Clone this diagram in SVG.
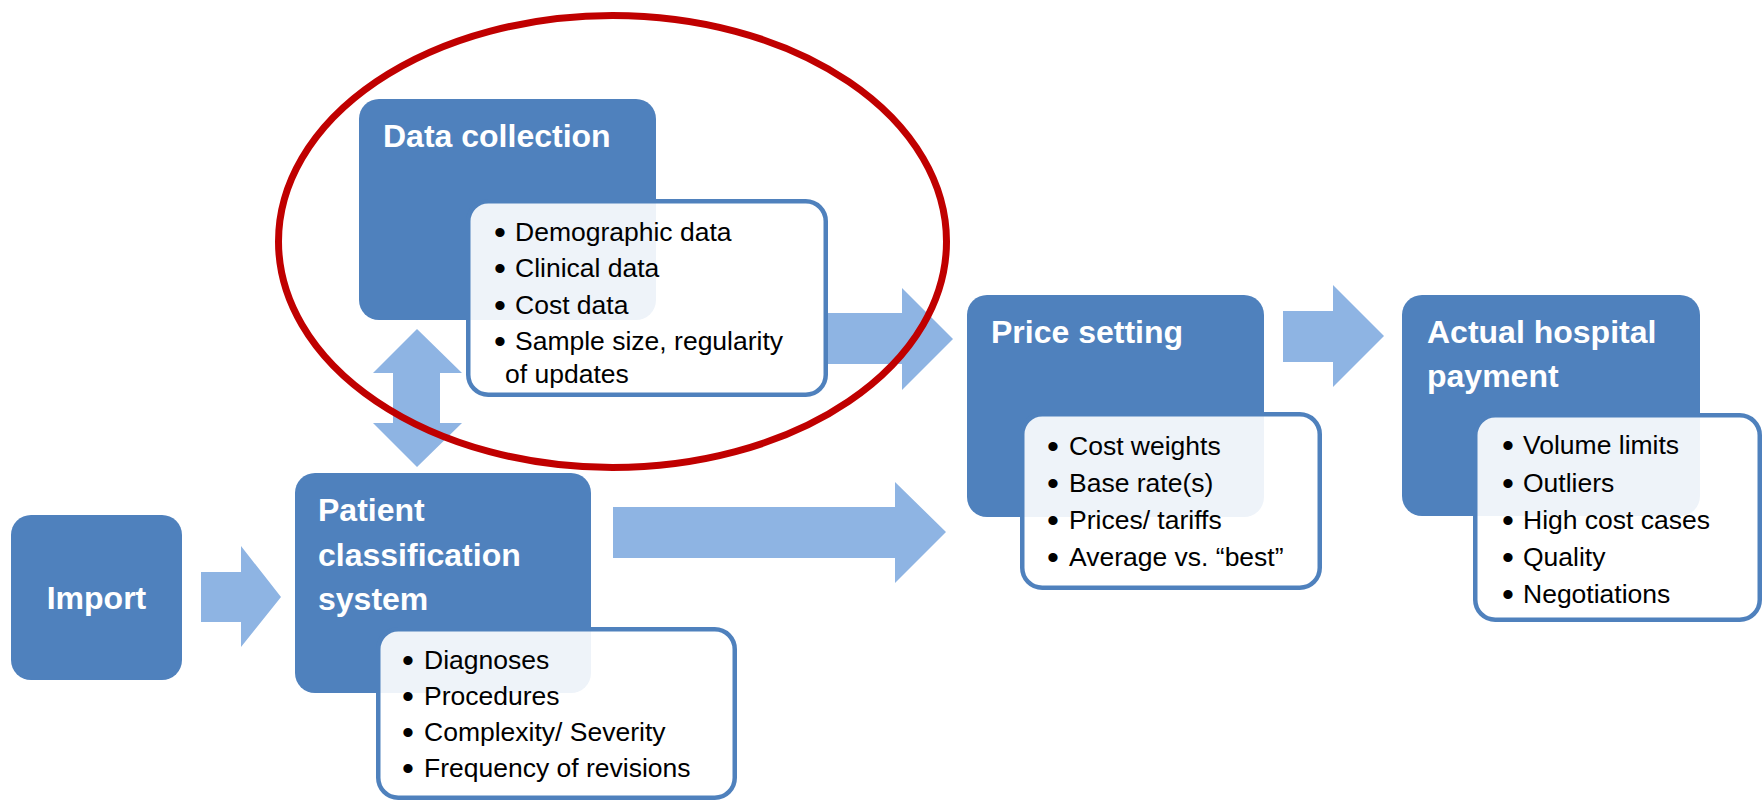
<svg xmlns="http://www.w3.org/2000/svg" width="1763" height="800" viewBox="0 0 1763 800">
  <style>
    .dark { fill: #4F81BD; }
    .list { fill: #FFFFFF; fill-opacity: 0.9; stroke: #4F81BD; stroke-width: 4.5; }
    .arrow { fill: #8EB4E3; }
    .title { font-family: "Liberation Sans", Arial, sans-serif; font-weight: bold; font-size: 32px; fill: #FFFFFF; }
    .item { font-family: "Liberation Sans", Arial, sans-serif; font-size: 26.5px; fill: #000000; }
    .bul { font-family: "Liberation Sans", Arial, sans-serif; font-size: 34px; fill: #000000; }
    .ring { fill: none; stroke: #C00000; stroke-width: 7; }
  </style>
  <rect width="1763" height="800" fill="#FFFFFF"/>

  <g id="connectors">
    <polygon class="arrow" points="201,572 241,572 241,546 281,597 241,647 241,622 201,622"/>
    <polygon class="arrow" points="613,507 895,507 895,482 946,532 895,583 895,558 613,558"/>
    <polygon class="arrow" points="827,313 902,313 902,288 953,339 902,390 902,364 827,364"/>
    <polygon class="arrow" points="1283,311 1333,311 1333,285 1384,336 1333,387 1333,362 1283,362"/>
    <polygon class="arrow" points="417,329 462,373 440,373 440,423 462,423 417,467 373,423 393,423 393,373 373,373"/>
  </g>

  <g id="import">
    <rect class="dark" x="11" y="515" width="171" height="165" rx="20"/>
    <text class="title" x="96.5" y="609" text-anchor="middle">Import</text>
  </g>

  <g id="data-collection">
    <rect class="dark" x="359" y="99" width="297" height="221" rx="20"/>
    <text class="title" x="383" y="147">Data collection</text>
    <rect class="list" x="468.25" y="201.25" width="357.5" height="193.5" rx="20"/>
    <text class="bul" x="494" y="244">•</text><text class="item" x="515" y="241">Demographic data</text>
    <text class="bul" x="494" y="280">•</text><text class="item" x="515" y="277">Clinical data</text>
    <text class="bul" x="494" y="317">•</text><text class="item" x="515" y="314">Cost data</text>
    <text class="bul" x="494" y="353">•</text><text class="item" x="515" y="350">Sample size, regularity</text>
    <text class="item" x="505" y="383">of updates</text>
  </g>

  <g id="patient-classification">
    <rect class="dark" x="295" y="473" width="296" height="220" rx="20"/>
    <text class="title" x="318" y="521">Patient</text>
    <text class="title" x="318" y="566">classification</text>
    <text class="title" x="318" y="610">system</text>
    <rect class="list" x="378.25" y="629.25" width="356.5" height="168.5" rx="20"/>
    <text class="bul" x="402" y="672">•</text><text class="item" x="424" y="669">Diagnoses</text>
    <text class="bul" x="402" y="708">•</text><text class="item" x="424" y="705">Procedures</text>
    <text class="bul" x="402" y="744">•</text><text class="item" x="424" y="741">Complexity/ Severity</text>
    <text class="bul" x="402" y="780">•</text><text class="item" x="424" y="777">Frequency of revisions</text>
  </g>

  <g id="price-setting">
    <rect class="dark" x="967" y="295" width="297" height="222" rx="20"/>
    <text class="title" x="991" y="343">Price setting</text>
    <rect class="list" x="1022.25" y="414.25" width="297.5" height="173.5" rx="20"/>
    <text class="bul" x="1047" y="458">•</text><text class="item" x="1069" y="455">Cost weights</text>
    <text class="bul" x="1047" y="495">•</text><text class="item" x="1069" y="492">Base rate(s)</text>
    <text class="bul" x="1047" y="532">•</text><text class="item" x="1069" y="529">Prices/ tariffs</text>
    <text class="bul" x="1047" y="569">•</text><text class="item" x="1069" y="566">Average vs. “best”</text>
  </g>

  <g id="actual-hospital-payment">
    <rect class="dark" x="1402" y="295" width="298" height="221" rx="20"/>
    <text class="title" x="1427" y="343">Actual hospital</text>
    <text class="title" x="1427" y="387">payment</text>
    <rect class="list" x="1475.25" y="415.25" width="284.5" height="204.5" rx="20"/>
    <text class="bul" x="1502" y="457">•</text><text class="item" x="1523" y="454">Volume limits</text>
    <text class="bul" x="1502" y="495">•</text><text class="item" x="1523" y="492">Outliers</text>
    <text class="bul" x="1502" y="532">•</text><text class="item" x="1523" y="529">High cost cases</text>
    <text class="bul" x="1502" y="569">•</text><text class="item" x="1523" y="566">Quality</text>
    <text class="bul" x="1502" y="606">•</text><text class="item" x="1523" y="603">Negotiations</text>
  </g>

  <g id="highlight">
    <ellipse class="ring" cx="612.5" cy="241.5" rx="334" ry="226"/>
  </g>
</svg>
